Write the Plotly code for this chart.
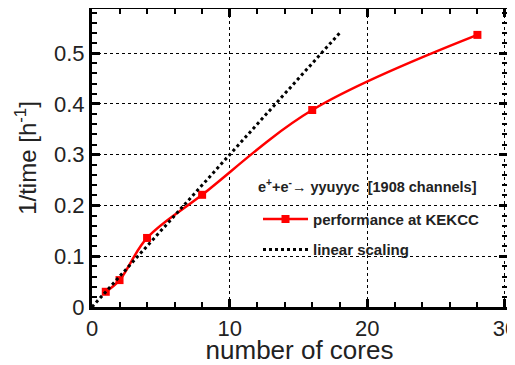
import plotly.graph_objects as go

cores = [1, 2, 4, 8, 16, 28]
inv_time = [0.03, 0.053, 0.136, 0.221, 0.388, 0.536]
linear_x = [0, 18]
linear_y = [0.0, 0.54]

FONT = "Liberation Sans, Arial, Helvetica, sans-serif"

fig = go.Figure()
fig.add_trace(go.Scatter(
    x=cores, y=inv_time, mode="lines+markers", name="<b>performance at KEKCC</b>",
    line=dict(color="#ff0000", width=2.5, shape="spline", smoothing=1.0),
    marker=dict(symbol="square", size=8, color="#ff0000"),
    legendgroup="a",
))
fig.add_trace(go.Scatter(
    x=linear_x, y=linear_y, mode="lines", name="<b>linear scaling</b>",
    line=dict(color="black", width=3, dash="dot"),
    legendgroup="b",
))

axis_common = dict(
    showline=True, mirror="ticks", linecolor="black", linewidth=3,
    ticks="inside", ticklen=8, tickwidth=3, tickcolor="black",
    showgrid=True, gridcolor="black", griddash="dot", gridwidth=1,
    zeroline=False, automargin=False, ticklabeloverflow="allow",
    tickfont=dict(family=FONT, size=22, color="#222"),
)

fig.update_xaxes(
    range=[0, 30.15], tickvals=[0, 10, 20, 30], ticktext=["0", "10", "20", "30"],
    minor=dict(dtick=2, tick0=0, ticks="inside", ticklen=5, tickwidth=2, tickcolor="black", showgrid=False),
    title=dict(text="number of cores", font=dict(family=FONT, size=26, color="#222"), standoff=5),
    **axis_common,
)
fig.update_yaxes(
    range=[0, 0.587], tickvals=[0, 0.1, 0.2, 0.3, 0.4, 0.5],
    ticktext=["0", "0.1", "0.2", "0.3", "0.4", "0.5"],
    minor=dict(dtick=0.02, tick0=0, ticks="inside", ticklen=5, tickwidth=2, tickcolor="black", showgrid=False),
    title=dict(text="1/time [h<sup>-1</sup>]", font=dict(family=FONT, size=24, color="#222"), standoff=11),
    **axis_common,
)

fig.add_annotation(
    x=0.395, y=0.405, xref="paper", yref="paper", xanchor="left", yanchor="middle",
    text="<b>e<sup>+</sup>+e<sup>-</sup>\u2192 yyuyyc  [1908 channels]</b>",
    showarrow=False, font=dict(family=FONT, size=14.5, color="#222"),
)

fig.update_layout(
    width=507, height=357,
    margin=dict(l=84, r=8, t=1, b=58),
    paper_bgcolor="white", plot_bgcolor="white",
    showlegend=True,
    legend=dict(
        x=0.40, y=0.35, xanchor="left", yanchor="top",
        bgcolor="rgba(0,0,0,0)", borderwidth=0,
        font=dict(family=FONT, size=15, color="#222"),
        traceorder="grouped", tracegroupgap=8, itemwidth=45,
    ),
)

fig.write_html("out.html")
